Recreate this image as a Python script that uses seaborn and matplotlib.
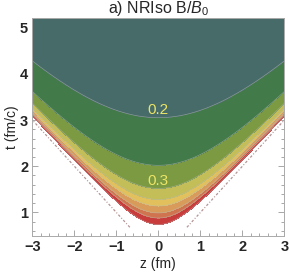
import matplotlib
matplotlib.use("Agg")
import matplotlib.pyplot as plt
import numpy as np
import seaborn as sns
from matplotlib.ticker import MultipleLocator

# ── data ─────────────────────────────────────────────────────────────────────
# proper time tau (fm/c) where each coloured band starts, innermost first
band_tau = [0.74, 0.88, 0.99, 1.14, 1.28, 1.52, 2.02, 3.05, 6.0]
band_colors = ["#c93c3c", "#d0744f", "#d99b5a", "#e2c15c",
               "#c3be57", "#7c9a42", "#427a49", "#466b69"]
label_text = ["0.2", "0.3"]
label_tau = [3.05, 1.52]
cone_z = [0.68, 3.0]          # visible part of the light cone t = |z|

sns.set_style("ticks")
plt.rcParams["font.family"] = ["Liberation Sans", "DejaVu Sans"]
plt.rcParams["mathtext.fontset"] = "custom"
plt.rcParams["mathtext.rm"] = "Liberation Sans"
plt.rcParams["mathtext.it"] = "Liberation Sans:italic"

fig = plt.figure(figsize=(2.89, 2.73), dpi=100)
ax = fig.add_axes([0.112, 0.137, 0.872, 0.796])

z = np.linspace(-3, 3, 801)
t = np.linspace(0.5, 5.2, 801)
Z, T = np.meshgrid(z, t)
tau = np.sqrt(np.clip(T**2 - Z**2, 0, None))
tau[T <= np.abs(Z)] = np.nan

ax.contourf(Z, T, tau, levels=band_tau, colors=band_colors)
ax.contour(Z, T, tau, levels=band_tau[:-1], colors="#b8b8b8",
           linewidths=0.5, alpha=0.6)

for txt, tv in zip(label_text, label_tau):
    ax.text(0, tv + 0.02, txt, ha="center", va="bottom",
            color="#ece466", fontsize=11)

# light cone, drawn as a faint dotted line
for side in (-1, 1):
    cz = np.array(cone_z) * side
    sns.lineplot(x=cz, y=np.abs(cz), ax=ax, color="#a07a7a",
                 lw=0.9, linestyle=(0, (2, 1.5, 0.8, 1.5)), alpha=0.8,
                 sort=False)

ax.set_xlim(-3, 3)
ax.set_ylim(0.5, 5.2)
ax.xaxis.set_major_locator(MultipleLocator(1))
ax.xaxis.set_minor_locator(MultipleLocator(0.2))
ax.yaxis.set_major_locator(MultipleLocator(1))
ax.yaxis.set_minor_locator(MultipleLocator(0.2))
ax.tick_params(which="both", direction="in", top=True, right=True,
               color="#999999", width=0.6)
ax.tick_params(which="major", length=4, labelsize=10.5, pad=3)
ax.tick_params(which="minor", length=2)
for lab in ax.get_xticklabels() + ax.get_yticklabels():
    lab.set_fontweight("bold")
for sp in ax.spines.values():
    sp.set_color("#aaaaaa")
    sp.set_linewidth(0.7)

ax.set_xlabel("z (fm)", fontsize=10, labelpad=2)
ax.set_ylabel("t (fm/c)", fontsize=10, labelpad=1)
ax.set_title("a) NRIso B/$\\mathit{B}_0$", fontsize=11.5, pad=3)

fig.savefig("out.png", dpi=100)
